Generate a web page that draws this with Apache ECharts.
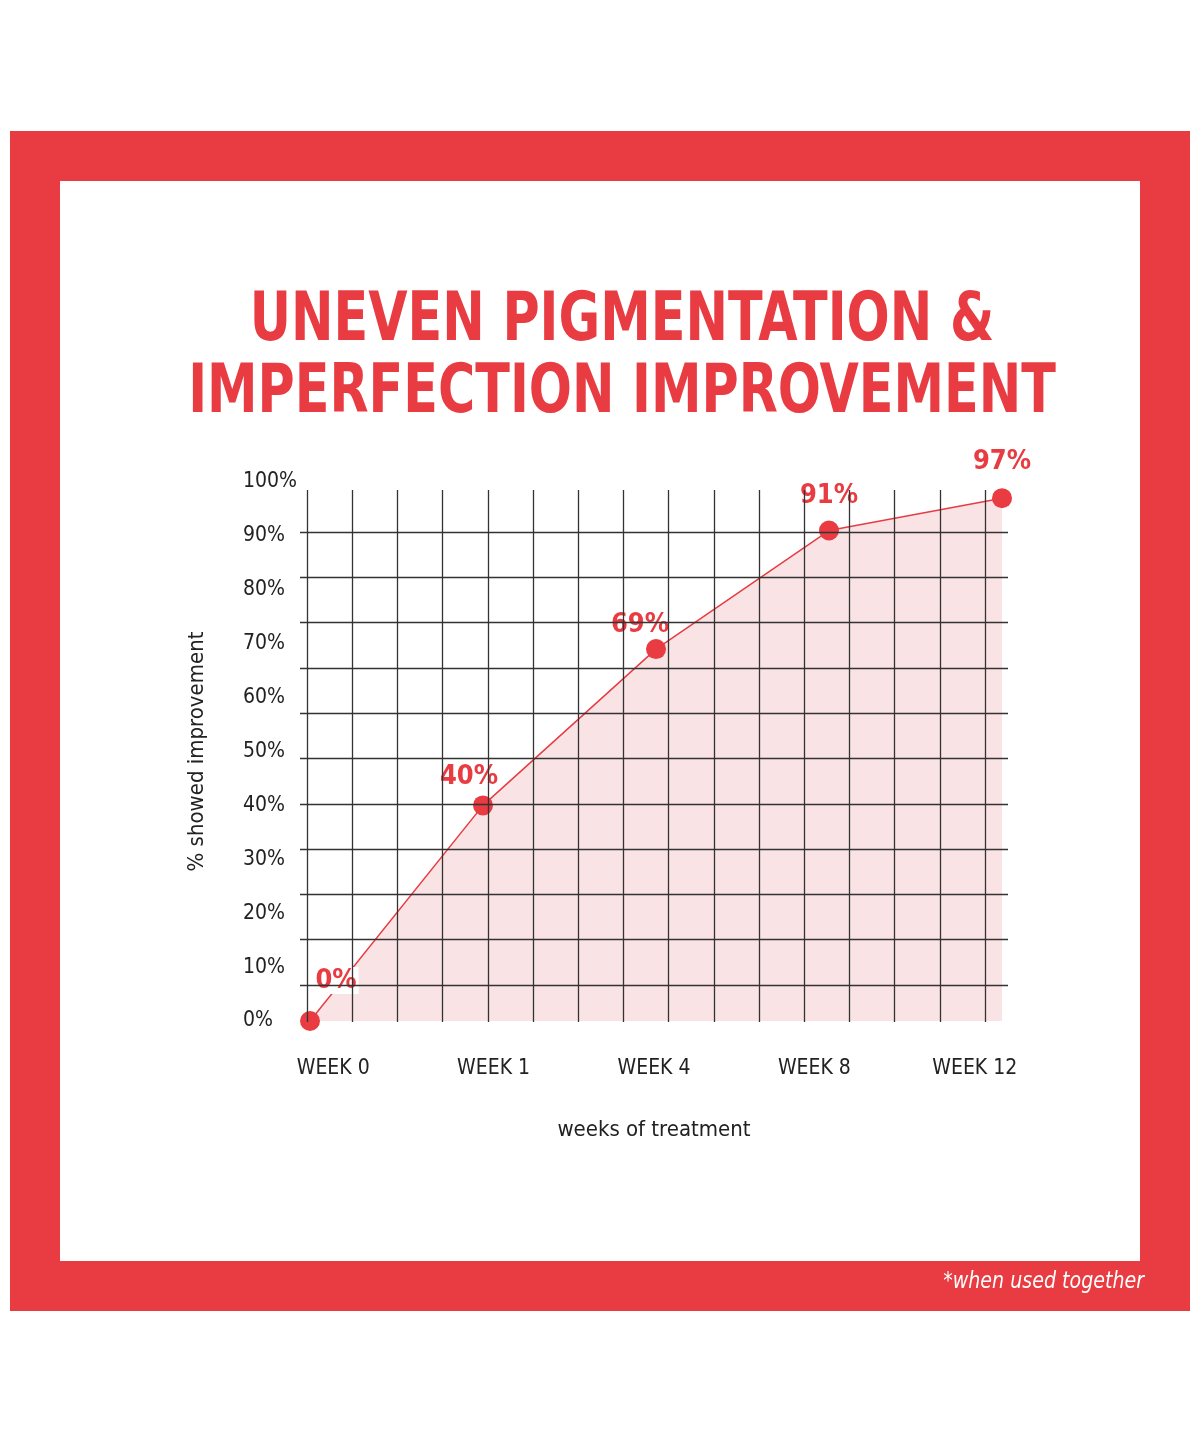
<!DOCTYPE html>
<html>
<head>
<meta charset="utf-8">
<script src="https://cdn.jsdelivr.net/npm/echarts@6/dist/echarts.min.js"></script>
<style>body{margin:0;background:#fff}</style>
</head>
<body>
<div id="main" style="width:1200px;height:1443px;"></div>
<script>
var weeks = ['WEEK 0', 'WEEK 1', 'WEEK 4', 'WEEK 8', 'WEEK 12'];
var improvement = [0, 40, 69, 91, 97];

var RED = '#e83c42';
var NARROW = "'Liberation Sans Narrow','DejaVu Sans Condensed','Roboto',sans-serif";
var labelOffsets = [[26, -12], [-14, 0], [-16, 4], [0, -6], [0, -8]];

var myChart = echarts.init(document.getElementById('main'));

var option = {
    animation: false,
    graphic: [
        {type: 'rect', z: -10, shape: {x: 10, y: 131, width: 1180, height: 1180}, style: {fill: RED}},
        {type: 'rect', z: -9, shape: {x: 60, y: 181, width: 1080, height: 1080}, style: {fill: '#fff'}},
        {type: 'text', x: 622, y: 286, scaleX: 0.83, style: {text: 'UNEVEN PIGMENTATION &\nIMPERFECTION IMPROVEMENT', fill: RED, font: 'bold 68px ' + NARROW, align: 'center', lineHeight: 72}},
        {type: 'text', x: 1144, y: 1271, scaleX: 0.92, style: {text: '*when used together', fill: '#fff', font: 'italic 23px ' + NARROW, align: 'right'}}
    ],
    grid: [
        {left: 300, right: 192, top: 532, height: 453},
        {left: 307, right: 215, top: 490, height: 532},
        {left: 310, right: 198, top: 482, height: 539},
        {left: 253, right: 145, top: 1021, height: 1}
    ],
    xAxis: [
        {gridIndex: 0, type: 'value', min: 0, max: 1, show: false},
        {gridIndex: 1, type: 'value', min: 0, max: 15, interval: 1, axisLine: {show: false}, axisTick: {show: false}, axisLabel: {show: false},
            splitLine: {show: true, lineStyle: {color: '#333', width: 1.3}}},
        {gridIndex: 2, type: 'value', min: 0, max: 4, show: false},
        {gridIndex: 3, type: 'category', data: weeks, axisLine: {show: false}, axisTick: {show: false},
            axisLabel: {margin: 36, color: '#222', fontSize: 21, fontFamily: NARROW},
            name: 'weeks of treatment', nameLocation: 'middle', nameGap: 97,
            nameTextStyle: {color: '#222', fontSize: 22, fontFamily: NARROW}}
    ],
    yAxis: [
        {gridIndex: 0, type: 'value', min: 0, max: 10, interval: 1, axisLine: {show: false}, axisTick: {show: false}, axisLabel: {show: false},
            splitLine: {show: true, lineStyle: {color: '#333', width: 1.3}}},
        {gridIndex: 1, type: 'value', min: 0, max: 1, show: false},
        {gridIndex: 2, type: 'value', min: 0, max: 100, interval: 10, axisLine: {show: false}, axisTick: {show: false}, splitLine: {show: false},
            axisLabel: {align: 'left', margin: 67, color: '#222', fontSize: 21, fontFamily: NARROW, formatter: '{value}%'},
            name: '% showed improvement', nameLocation: 'middle', nameGap: 102, nameRotate: 90,
            nameTextStyle: {color: '#222', fontSize: 22, fontFamily: NARROW}},
        {gridIndex: 3, type: 'value', show: false}
    ],
    series: [
        {
            type: 'line',
            xAxisIndex: 2, yAxisIndex: 2,
            z: -1,
            data: improvement.map(function (v, i) { return [i, v]; }),
            symbol: 'circle', symbolSize: 20,
            lineStyle: {color: RED, width: 1.5},
            itemStyle: {color: RED},
            areaStyle: {color: 'rgba(230,110,118,0.28)'},
            label: {
                show: true, position: 'top', color: RED, fontSize: 27, fontWeight: 'bold', fontFamily: NARROW,
                formatter: function (p) { return p.value[1] + '%'; }
            },
            labelLayout: function (p) {
                var o = labelOffsets[p.dataIndex];
                return {dx: o[0], dy: o[1]};
            }
        }
    ]
};
option.series[0].data = option.series[0].data.map(function (d, i) {
    return i === 0 ? {value: d, label: {backgroundColor: '#fff', padding: [0, 2]}} : d;
});

myChart.setOption(option);
</script>
</body>
</html>
